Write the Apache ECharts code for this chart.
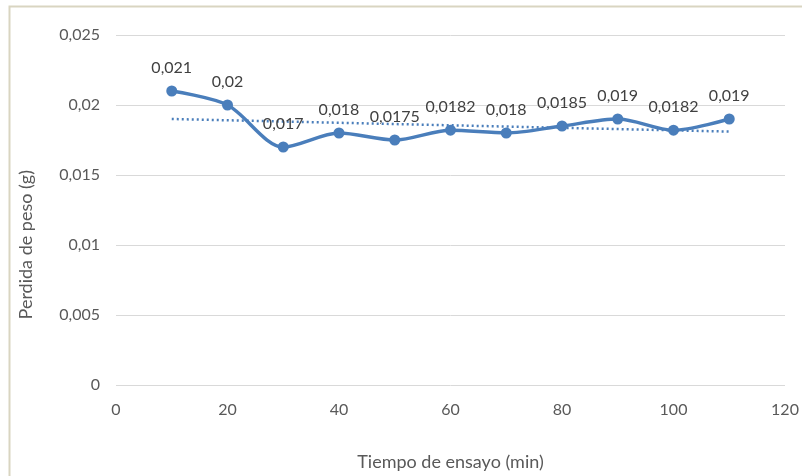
<!DOCTYPE html>
<html>
<head>
<meta charset="utf-8">
<script src="https://cdn.jsdelivr.net/npm/echarts@6/dist/echarts.min.js"></script>
<style>
  html, body { margin: 0; padding: 0; background: #fff; }
  #chart { width: 802px; height: 476px; }
</style>
</head>
<body>
<div id="chart"></div>
<script>
// tiempo de ensayo (min) y pérdida de peso (g)
const tiempos = [10, 20, 30, 40, 50, 60, 70, 80, 90, 100, 110];
const perdida = [0.021, 0.02, 0.017, 0.018, 0.0175, 0.0182, 0.018, 0.0185, 0.019, 0.0182, 0.019];
// línea de tendencia, extremos
const tendenciaX = [10, 110];
const tendenciaY = [0.019, 0.0181];

const azul = "#4a7ebb";
const fuente = "Lato";
const coma = (v) => String(v).replace(".", ",");

var chart = echarts.init(document.getElementById("chart"));
chart.setOption({
  animation: false,
  textStyle: { fontFamily: fuente },
  grid: { left: 116, right: 17, top: 35, bottom: 91 },
  graphic: [
    {
      // marco del área del gráfico
      type: "rect",
      shape: { x: 9.5, y: 6.5, width: 900, height: 600 },
      style: { fill: "none", stroke: "#d9d5c1", lineWidth: 2 },
      silent: true,
    },
    {
      type: "text",
      left: 17,
      top: 170,
      rotation: Math.PI / 2,
      style: {
        text: "Perdida de peso (g)",
        fill: "#595959",
        font: "18px " + fuente,
      },
    },
  ],
  xAxis: {
    type: "value",
    min: 0,
    max: 120,
    interval: 20,
    name: "Tiempo de ensayo (min)",
    nameLocation: "middle",
    nameGap: 68,
    nameTextStyle: { color: "#595959", fontSize: 18, fontFamily: fuente },
    axisLine: { show: false },
    axisTick: { show: false },
    splitLine: { show: false },
    axisLabel: { color: "#595959", fontSize: 16, margin: 17 },
  },
  yAxis: {
    type: "value",
    min: 0,
    max: 0.025,
    interval: 0.005,
    axisLine: { show: false },
    axisTick: { show: false },
    splitLine: { lineStyle: { color: "#d9d9d9", width: 1 } },
    axisLabel: { color: "#595959", fontSize: 16, margin: 16, formatter: coma },
  },
  series: [
    {
      name: "tendencia",
      type: "line",
      data: tendenciaX.map((x, i) => [x, tendenciaY[i]]),
      symbol: "none",
      lineStyle: { color: azul, width: 2.5, type: [2, 3] },
      z: 1,
    },
    {
      name: "perdida",
      type: "line",
      smooth: 0.3,
      data: tiempos.map((x, i) => [x, perdida[i]]),
      symbol: "circle",
      symbolSize: 11,
      itemStyle: { color: azul },
      lineStyle: { color: azul, width: 3.5 },
      label: {
        show: true,
        position: "top",
        distance: 10,
        color: "#404040",
        fontSize: 16,
        formatter: (p) => coma(p.value[1]),
      },
      z: 2,
    },
  ],
});
</script>
</body>
</html>
